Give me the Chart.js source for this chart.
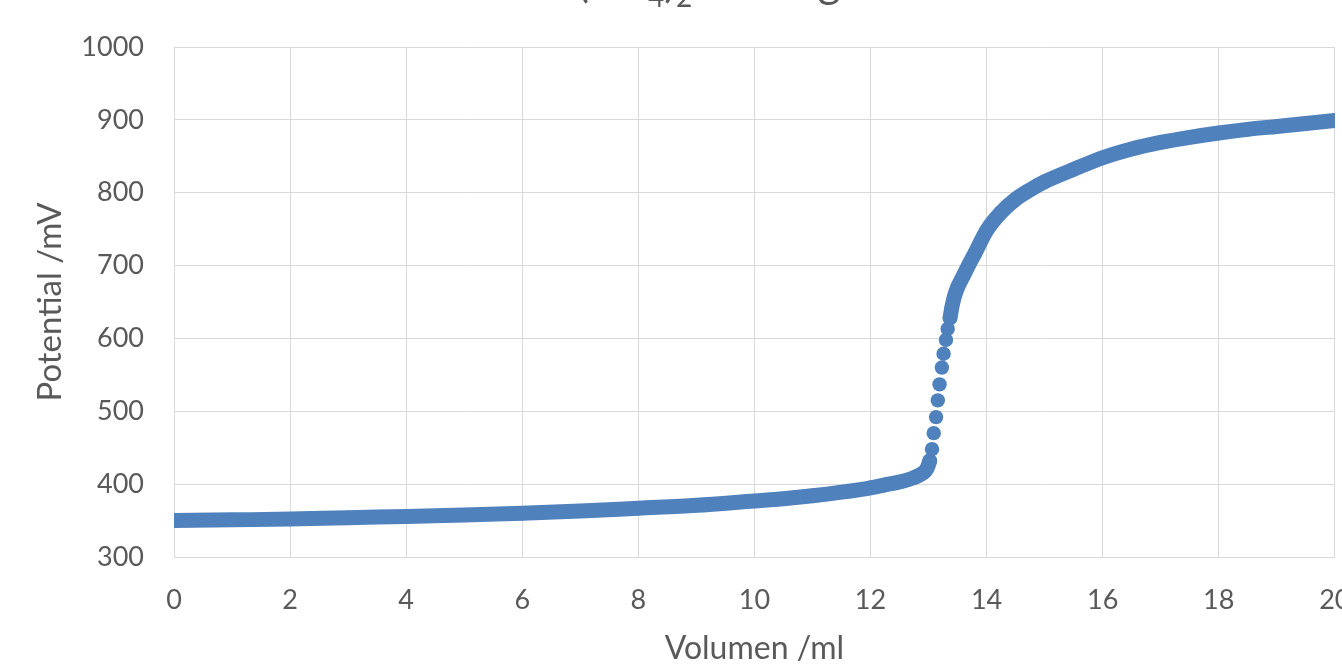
<!DOCTYPE html>
<html>
<head>
<meta charset="utf-8">
<script src="https://cdn.jsdelivr.net/npm/chart.js@4"></script>
<style>
  html, body { margin: 0; padding: 0; background: #fff; overflow: hidden; }
  #wrap { width: 1342px; height: 668px; }
</style>
</head>
<body>
<div id="wrap"><canvas id="myChart" width="1342" height="668"></canvas></div>
<script>
// Volumen in ml, Potential in mV
const VOLUMEN = [0, 1, 2, 3, 4, 5, 6, 7, 8, 9, 10, 10.5, 11, 11.5, 12, 12.25, 12.5, 12.75, 12.9, 12.97,
  13.02, 13.06, 13.09, 13.13, 13.16, 13.19, 13.23, 13.26, 13.3, 13.33, 13.37, 13.4,
  13.44, 13.5, 13.6, 13.7, 13.8, 14, 14.25, 14.5, 14.75, 15, 15.5, 16, 16.5, 17, 17.5, 18, 18.5, 19, 19.5, 20];
const POTENTIAL = [350, 351, 352, 354, 355.5, 357.5, 360, 363, 367, 371, 377, 380, 384, 389, 395, 399, 403, 409, 415, 421,
  432, 448, 470, 492, 515, 537, 560, 579, 598, 613, 628, 642,
  656, 670, 686, 702, 717, 748, 773, 791, 804, 815, 832, 848, 860, 869, 876, 882, 887, 891, 895, 899];

const X_TICKS = [0, 2, 4, 6, 8, 10, 12, 14, 16, 18, 20];
const Y_TICKS = [300, 400, 500, 600, 700, 800, 900, 1000];

const BLUE = '#4f81bd';
const GRID = '#d9d9d9';
const TEXT = '#595959';
const FONT = 'Lato';

// steep part: single dots, no connecting band
const STEP_FROM = 13.0, STEP_TO = 13.38;

const points = VOLUMEN.map((v, i) => ({x: v, y: POTENTIAL[i]}));

// title is cut off at the top edge of the picture
const titlePlugin = {
  id: 'cutTitle',
  afterDraw(chart) {
    const c = chart.ctx;
    c.save();
    c.fillStyle = TEXT;
    c.textBaseline = 'alphabetic';
    const big = '44px ' + FONT, small = '28px ' + FONT;
    const base = -3;
    const parts = [
      ['Titration mit Ce(', big, 0],
      ['SO', big, 0],
      ['4', small, 10],
      [')', big, 0],
      ['2', small, 10],
      [' Lösung', big, 0]
    ];
    c.font = big;
    let x = 589 - c.measureText(parts[0][0]).width;
    for (const [t, f, dy] of parts) {
      c.font = f;
      c.fillText(t, x, base + dy);
      x += c.measureText(t).width;
    }
    c.restore();
  }
};

const ctx = document.getElementById('myChart');

window.myChart = new Chart(ctx, {
  type: 'scatter',
  data: {
    datasets: [{
      label: 'Potential',
      data: points,
      showLine: true,
      borderColor: BLUE,
      backgroundColor: BLUE,
      borderWidth: 15,
      borderCapStyle: 'round',
      borderJoinStyle: 'round',
      cubicInterpolationMode: 'monotone',
      pointRadius: 7.2,
      pointHoverRadius: 7.2,
      pointBorderWidth: 0,
      pointBackgroundColor: BLUE,
      segment: {
        borderColor: s => (s.p0.parsed.x >= STEP_FROM && s.p1.parsed.x <= STEP_TO) ? 'rgba(0,0,0,0)' : BLUE
      }
    }]
  },
  options: {
    responsive: false,
    animation: false,
    events: [],
    layout: { padding: { top: 47, right: 7, left: 0, bottom: 0 } },
    plugins: {
      legend: { display: false },
      tooltip: { enabled: false },
      title: { display: false }
    },
    scales: {
      x: {
        type: 'linear',
        min: 0,
        max: 20,
        afterBuildTicks: s => { s.ticks = X_TICKS.map(v => ({value: v})); },
        afterFit: s => { s.height = 111; s.paddingLeft = 0; s.paddingRight = 0; },
        border: { color: GRID, width: 1 },
        grid: { color: GRID, lineWidth: 1, drawTicks: false },
        ticks: { color: TEXT, font: { family: FONT, size: 27 }, padding: 27, maxRotation: 0,
          callback: v => String(v) },
        title: {
          display: true,
          text: 'Volumen /ml',
          color: TEXT,
          font: { family: FONT, size: 32 },
          padding: { top: 0, bottom: 0 }
        }
      },
      y: {
        type: 'linear',
        min: 300,
        max: 1000,
        afterBuildTicks: s => { s.ticks = Y_TICKS.map(v => ({value: v})); },
        afterFit: s => { s.width = 174; },
        border: { color: GRID, width: 1 },
        grid: { color: GRID, lineWidth: 1, drawTicks: false },
        ticks: { color: TEXT, font: { family: FONT, size: 27 }, padding: 30,
          callback: v => String(v) },
        title: {
          display: true,
          text: 'Potential /mV',
          color: TEXT,
          font: { family: FONT, size: 33 },
          padding: { top: 31, bottom: 0 }
        }
      }
    }
  },
  plugins: [titlePlugin]
});
</script>
</body>
</html>
